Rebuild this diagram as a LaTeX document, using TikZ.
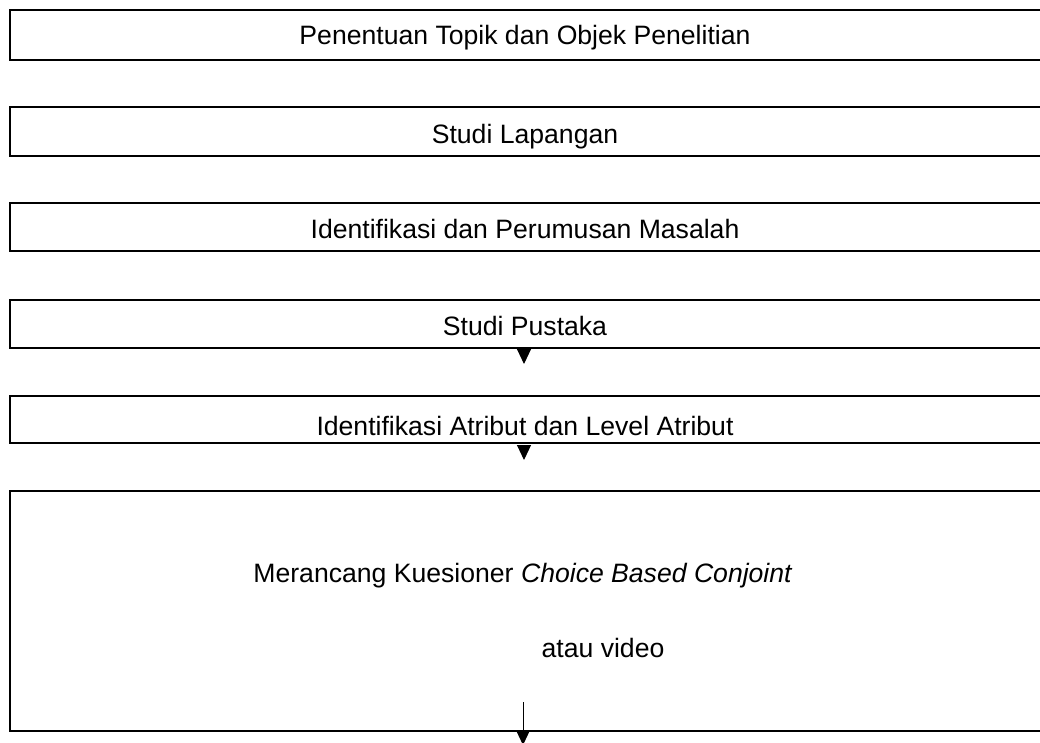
\documentclass[tikz,border=0pt]{standalone}
\usepackage{fontspec}
\setmainfont{Liberation Sans}
\usetikzlibrary{arrows.meta}
\begin{document}
\begin{tikzpicture}[x=1pt,y=-1pt,
  stepbox/.style={draw=black,line width=2pt,fill=white},
  lbl/.style={anchor=base,inner sep=0pt,font=\fontsize{26.6}{32}\selectfont},
  tip/.style={-{Triangle[width=14pt,length=15pt]},line width=1pt}]
\useasboundingbox (0,0) rectangle (1040,742);
\clip (0,0) rectangle (1040,742);
\fill[white] (0,0) rectangle (1040,742);
% boxes
\draw[stepbox] (10,10) rectangle (1046,60);
\draw[stepbox] (10,107) rectangle (1046,156);
\draw[stepbox] (10,203) rectangle (1046,251);
\draw[stepbox] (10,300) rectangle (1046,348);
\draw[stepbox] (10,396) rectangle (1046,443);
\draw[stepbox] (10,491) rectangle (1046,731);
% labels
\node[lbl] (t1) at (525,44) {Penentuan Topik dan Objek Penelitian};
\node[lbl] (t2) at (525,143) {Studi Lapangan};
\node[lbl] (t3) at (525,238) {Identifikasi dan Perumusan Masalah};
\node[lbl] (t4) at (525,335) {Studi Pustaka};
\node[lbl] (t5) at (525,435) {Identifikasi Atribut dan Level Atribut};
\node[lbl] (t6) at (523,582) {Merancang Kuesioner \textit{Choice Based Conjoint}};
\node[lbl] (t7) at (603,657) {atau video};
% arrows
\coordinate (a4s) at (524,349);
\coordinate (a4e) at (524,364);
\coordinate (a5s) at (524,445);
\coordinate (a5e) at (524,460);
\coordinate (a6s) at (523,702);
\coordinate (a6e) at (523,745);
\draw[tip] (a4s) -- (a4e);
\draw[tip] (a5s) -- (a5e);
\draw[tip] (a6s) -- (a6e);
\end{tikzpicture}
\end{document}
